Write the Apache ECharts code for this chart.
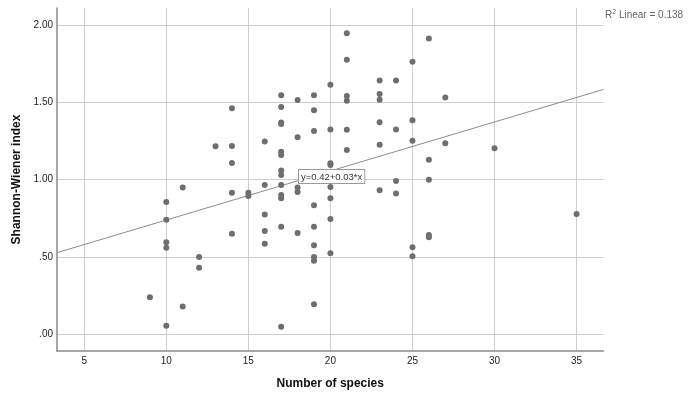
<!DOCTYPE html>
<html>
<head>
<meta charset="utf-8">
<script src="https://cdn.jsdelivr.net/npm/echarts@6/dist/echarts.min.js"></script>
<style>
html,body{margin:0;padding:0;background:#fff;}
#chart{width:692px;height:395px;}
</style>
</head>
<body>
<div id="chart"></div>
<script>
// ---- data ----
const speciesCount = [
  9,
  10,10,10,10,10,
  11,11,
  12,12,
  13,
  14,14,14,14,14,
  15,15,
  16,16,16,16,16,
  17,17,17,17,17,17,17,17,17,17,17,17,17,
  18,18,18,18,18,
  19,19,19,19,19,19,19,19,19,
  20,20,20,20,20,20,20,20,
  21,21,21,21,21,21,
  23,23,23,23,23,23,
  24,24,24,24,
  25,25,25,25,25,
  26,26,26,26,26,
  27,27,
  30,
  35
];
const shannonIndex = [
  0.24,
  0.855,0.74,0.595,0.56,0.056,
  0.95,0.18,
  0.50,0.43,
  1.216,
  1.462,1.218,1.108,0.916,0.651,
  0.916,0.895,
  1.246,0.966,0.774,0.668,0.586,
  1.546,1.47,1.37,1.36,1.18,1.16,1.06,1.03,0.965,0.90,0.88,0.696,0.049,
  1.515,1.274,0.95,0.92,0.655,
  1.546,1.448,1.314,0.835,0.696,0.576,0.50,0.475,0.194,
  1.614,1.324,1.106,1.095,0.953,0.88,0.746,0.524,
  1.947,1.776,1.541,1.511,1.322,1.192,
  1.641,1.554,1.516,1.371,1.226,0.931,
  1.641,1.324,0.992,0.910,
  1.763,1.384,1.252,0.563,0.505,
  1.912,1.129,1.000,0.642,0.627,
  1.531,1.235,
  1.203,
  0.778
];
const fitCoefficients = [0.422, 0.0317]; // intercept, slope
const xRange = [3.34, 36.64];
const yRange = [-0.108, 2.11];
const xTickValues = [5,10,15,20,25,30,35];
const yTickValues = [0,0.5,1,1.5,2];
const yTickLabels = ['.00','.50','1.00','1.50','2.00'];
const fitLabel = 'y=0.42+0.03*x';
const r2Value = '0.138';

const points = speciesCount.map((x,i)=>[x, shannonIndex[i]]);
const fitLine = xRange.map(x=>[x, fitCoefficients[0] + fitCoefficients[1]*x]);

const chart = echarts.init(document.getElementById('chart'));
const FONT = '"Liberation Sans", Arial, sans-serif';
const gridColor = '#cfcfcf';

chart.setOption({
  animation:false,
  backgroundColor:'#fff',
  grid:{left:57, right:88.5, top:8, bottom:44, containLabel:false},
  xAxis:{
    type:'value', min:xRange[0], max:xRange[1],
    name:'Number of species', nameLocation:'middle', nameGap:27,
    nameTextStyle:{fontFamily:FONT, fontSize:12, fontWeight:'bold', color:'#111'},
    axisLine:{show:true, onZero:false, lineStyle:{color:'#8a8a8a', width:1.5}},
    axisTick:{show:false, customValues:xTickValues},
    axisLabel:{customValues:xTickValues, fontFamily:FONT, fontSize:10, color:'#222', margin:5},
    splitLine:{show:true, lineStyle:{color:gridColor, width:1}}
  },
  yAxis:{
    type:'value', min:yRange[0], max:yRange[1],
    name:'Shannon-Wiener index', nameLocation:'middle', nameGap:34, nameRotate:90,
    nameTextStyle:{fontFamily:FONT, fontSize:12, fontWeight:'bold', color:'#111'},
    axisLine:{show:true, onZero:false, lineStyle:{color:'#8a8a8a', width:1.5}},
    axisTick:{show:false, customValues:yTickValues},
    axisLabel:{customValues:yTickValues, fontFamily:FONT, fontSize:10, color:'#222', margin:4,
      formatter:(v)=>{const i=yTickValues.findIndex(t=>Math.abs(t-v)<1e-9); return i>=0?yTickLabels[i]:'';}},
    splitLine:{show:true, lineStyle:{color:gridColor, width:1}}
  },
  series:[
    {
      type:'line', data:fitLine, showSymbol:false, symbol:'none',
      lineStyle:{color:'#8c8c8c', width:1}, z:2, silent:true
    },
    {
      type:'scatter', data:points, symbol:'circle', symbolSize:6,
      itemStyle:{color:'#6e6e6e', opacity:1}, z:3
    }
  ],
  graphic:[
    {
      type:'text', left:298, top:169, z:10,
      style:{text:fitLabel, font:'9.5px "Liberation Sans", Arial, sans-serif', fill:'#333',
        backgroundColor:'#fff', borderColor:'#9a9a9a', borderWidth:1, padding:[2,2,1,2]}
    },
    {
      type:'text', left:605, top:9, z:10,
      style:{text:'R{sup|2} Linear = '+r2Value,
        font:'10px "Liberation Sans", Arial, sans-serif', fill:'#666',
        rich:{sup:{fontSize:7, verticalAlign:'top', fill:'#666', padding:[0,0,5,0], fontFamily:FONT}}}
    }
  ]
});
</script>
</body>
</html>
